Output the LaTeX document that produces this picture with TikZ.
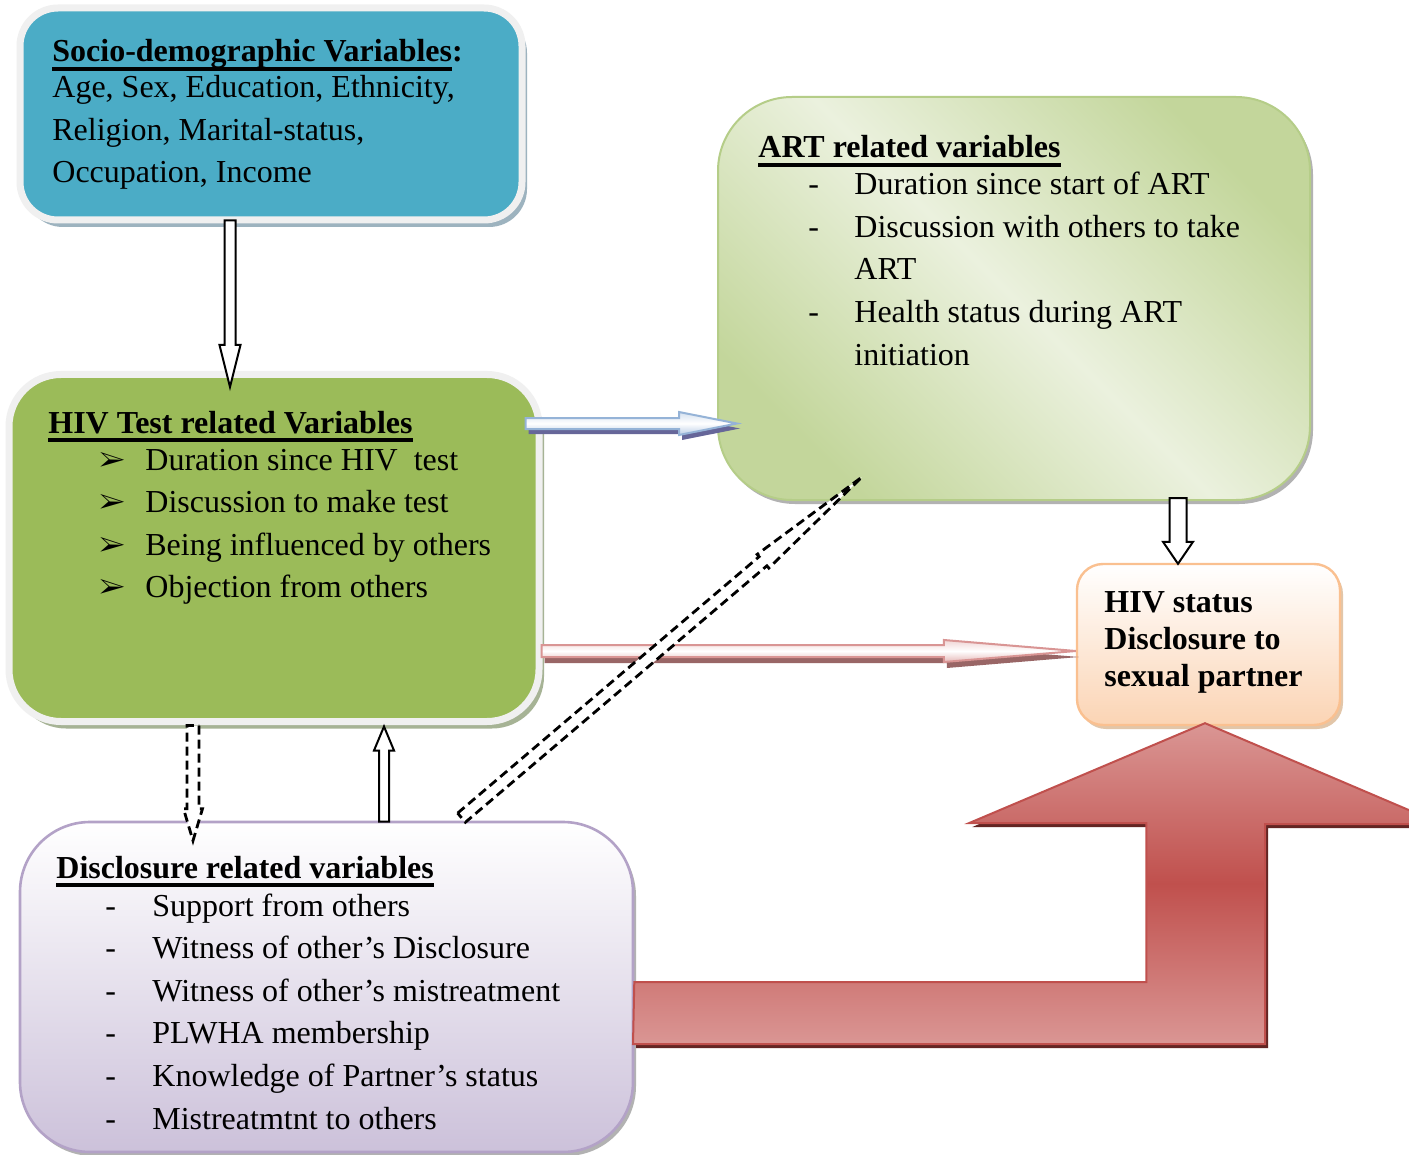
\documentclass[tikz,border=0pt]{standalone}
\usepackage{fontspec}
\setmainfont{Liberation Serif}
\usepackage{pifont}
\usetikzlibrary{calc,shadows}

\definecolor{sociofill}{HTML}{4BACC6}
\definecolor{rim}{HTML}{F0F0F0}
\definecolor{socioshade}{HTML}{9DB3BF}
\definecolor{hivfill}{HTML}{9BBB59}
\definecolor{hivshade}{HTML}{A6B395}
\definecolor{artdark}{HTML}{C3D69B}
\definecolor{artlight}{HTML}{EBF1DE}
\definecolor{artline}{HTML}{B5CD88}
\definecolor{statusline}{HTML}{FAC090}
\definecolor{statuslow}{HTML}{FBD4B4}
\definecolor{disclline}{HTML}{B3A2C7}
\definecolor{discllow}{HTML}{CCC1DA}
\definecolor{redmid}{HTML}{C0504D}
\definecolor{redlight}{HTML}{DA9694}
\definecolor{reddark}{HTML}{632523}
\definecolor{blueline}{HTML}{95B3D7}
\definecolor{bluelow}{HTML}{B9CDE5}
\definecolor{pinkline}{HTML}{D99594}
\definecolor{pinklow}{HTML}{E6B9B8}

\newcommand{\undl}[1]{\setbox0=\hbox{#1}\rlap{\rule[-4.3pt]{\wd0}{1.6pt}}\box0}
% block arrow: [style]{from}{to}{shaft half width}{head half width}{head length}
\newcommand{\blockarrow}[6][]{%
  \draw[#1] ($(#2)!#4!90:(#3)$)
    -- ($(#3)!#6!(#2)!#4!-90:(#2)$)
    -- ($(#3)!#6!(#2)!#5!-90:(#2)$)
    -- (#3)
    -- ($(#3)!#6!(#2)!#5!90:(#2)$)
    -- ($(#3)!#6!(#2)!#4!90:(#2)$)
    -- ($(#2)!#4!-90:(#3)$) -- cycle;}

\begin{document}
\begin{tikzpicture}[x=0.5pt,y=-0.5pt]
        \tikzstyle{every node} = [inner sep=0pt, font=\fontsize{16}{19}\selectfont]
        \tikzstyle{txt} = [anchor=base west]
        \tikzstyle{sociobox} = [rounded corners=19pt, minimum width=251pt, minimum height=106pt,
                fill=sociofill, draw=rim, line width=3.5pt,
                drop shadow={shadow xshift=2.5pt, shadow yshift=-3.5pt, fill=socioshade, opacity=1}]
        \tikzstyle{hivbox} = [rounded corners=26pt, minimum width=265pt, minimum height=173.5pt,
                fill=hivfill, draw=rim, line width=3.5pt,
                drop shadow={shadow xshift=2.5pt, shadow yshift=-3.5pt, fill=hivshade, opacity=1}]
        \tikzstyle{artbox} = [rounded corners=37pt, minimum width=296pt, minimum height=201.5pt,
                draw=artline, line width=1pt, top color=artdark, bottom color=artdark,
                middle color=artlight, shading angle=-45,
                drop shadow={shadow xshift=1.5pt, shadow yshift=-2pt, fill=gray!60, opacity=1}]
        \tikzstyle{statusbox} = [rounded corners=13pt, minimum width=131.5pt, minimum height=80.5pt,
                draw=statusline, line width=1.2pt, top color=white, bottom color=statuslow,
                drop shadow={shadow xshift=1.5pt, shadow yshift=-2pt, fill=brown!45, opacity=1}]
        \tikzstyle{disclbox} = [rounded corners=35pt, minimum width=306.5pt, minimum height=165pt,
                draw=disclline, line width=1.3pt, top color=white, bottom color=discllow,
                drop shadow={shadow xshift=1.5pt, shadow yshift=-2pt, fill=gray!60, opacity=1}]
        \tikzstyle{plain} = [fill=white, draw=black, line width=1pt]
        \tikzstyle{dashy} = [fill=white, draw=black, line width=1.4pt, dash pattern=on 4.5pt off 2.5pt]
        \tikzstyle{bluearrow} = [draw=blueline, line width=1pt, top color=bluelow!60,
                bottom color=bluelow, middle color=white,
                drop shadow={shadow xshift=1.5pt, shadow yshift=-2.5pt, fill=gray!80!blue, opacity=1}]
        \tikzstyle{pinkarrow} = [draw=pinkline, line width=1pt, top color=pinklow!60,
                bottom color=pinklow, middle color=white,
                drop shadow={shadow xshift=1.5pt, shadow yshift=-3pt, fill=gray!80!red, opacity=1}]
        \tikzstyle{bigarrow} = [draw=redmid, line width=1pt, top color=redlight,
                bottom color=redlight, middle color=redmid,
                drop shadow={shadow xshift=1.5pt, shadow yshift=-2pt, fill=reddark, opacity=1}]

        \clip (0,0) rectangle (1409,1155);
        \fill[white] (0,0) rectangle (1409,1155);

        % boxes
        \node[sociobox] (socio) at (271,114) {};
        \node[hivbox] (hiv) at (274,548) {};
        \node[artbox] (art) at (1014,298.5) {};
        \node[statusbox] (status) at (1208.5,644.5) {};
        \node[disclbox] (discl) at (326.5,987) {};

        % socio-demographic
        \node[txt] (socio-t) at (52,62) {\bfseries\undl{Socio-demographic Variables}:};
        \foreach \t [count=\i from 0] in {{Age, Sex, Education, Ethnicity,},
                {Religion, Marital-status,}, {Occupation, Income}}
            \node[txt] (socio-\i) at (52,{98+42.5*\i}) {\t};

        % HIV test
        \node[txt] (hiv-t) at (48,433) {\bfseries\undl{HIV Test related Variables}};
        \foreach \t [count=\i from 0] in {Duration since HIV\ \ test, Discussion to make test,
                Being influenced by others, Objection from others} {
            \node[txt] (hiv-b\i) at (99,{469+42.5*\i}) {\fontsize{14}{14}\selectfont\ding{226}};
            \node[txt] (hiv-\i) at (145,{470+42.5*\i}) {\t};
        }

        % ART
        \node[txt] (art-t) at (758,158) {\bfseries\undl{ART related variables}};
        \foreach \i in {0,1,3}
            \node[txt] (art-d\i) at (808,{195+42.5*\i}) {-};
        \foreach \t [count=\i from 0] in {Duration since start of ART, Discussion with others to take,
                ART, Health status during ART, initiation}
            \node[txt] (art-\i) at (854,{195+42.5*\i}) {\t};

        % HIV status
        \foreach \t [count=\i from 0] in {HIV status, Disclosure to, sexual partner}
            \node[txt] (status-\i) at (1104,{612+37*\i}) {\bfseries\t};

        % disclosure
        \node[txt] (discl-t) at (56,878) {\bfseries\undl{Disclosure related variables}};
        \foreach \t [count=\i from 0] in {Support from others, Witness of other’s Disclosure,
                Witness of other’s mistreatment, PLWHA membership,
                Knowledge of Partner’s status, Mistreatmtnt to others} {
            \node[txt] (discl-d\i) at (105,{916+42.6*\i}) {-};
            \node[txt] (discl-\i) at (152,{916+42.6*\i}) {\t};
        }

        % arrow ends
        \coordinate (a1) at ($(socio.south)+(-41,-3)$);
        \coordinate (a2) at ($(hiv.north)+(-44,16)$);
        \coordinate (b1) at ($(hiv.east)+(-17,-124.5)$);
        \coordinate (b2) at ($(art.west)+(20,125)$);
        \coordinate (c1) at ($(art.south)+(164,-3)$);
        \coordinate (c2) at ($(status.north)+(-30.5,1)$);
        \coordinate (d1) at ($(hiv.east)+(-1,103)$);
        \coordinate (d2) at ($(status.west)+(0,6.5)$);
        \coordinate (e1) at ($(hiv.south)+(-81,0.5)$);
        \coordinate (e2) at ($(discl.north)+(-133.5,20)$);
        \coordinate (f1) at ($(discl.north)+(57.5,1)$);
        \coordinate (f2) at ($(hiv.south)+(110,1.5)$);
        \coordinate (g1) at ($(discl.north)+(135,-3)$);
        \coordinate (g2) at ($(art.south)+(-152,-24)$);
        \coordinate (r1) at ($(discl.east)+(0,-5)$);
        \coordinate (r2) at ($(status.south)+(-3.5,-3)$);

        % arrows
        \draw[bigarrow] (r1) -- ++(512,0) -- ++(0,-159) -- ++(-177,0) -- (r2)
            -- ++(237,101) -- ++(-177,0) -- ++(0,220) -- ++(-632,0) -- cycle;
        \blockarrow[pinkarrow]{d1}{d2}{3pt}{5.5pt}{66pt}
        \blockarrow[bluearrow]{b1}{b2}{2.75pt}{5.75pt}{29pt}
        \blockarrow[plain]{a1}{a2}{2.75pt}{5.25pt}{21pt}
        \blockarrow[plain]{c1}{c2}{4.25pt}{7.5pt}{11pt}
        \blockarrow[plain]{f1}{f2}{2.5pt}{5pt}{12pt}
        \blockarrow[dashy]{e1}{e2}{3pt}{4.75pt}{16pt}
        \blockarrow[dashy]{g1}{g2}{3pt}{4.5pt}{65pt}
\end{tikzpicture}
\end{document}
